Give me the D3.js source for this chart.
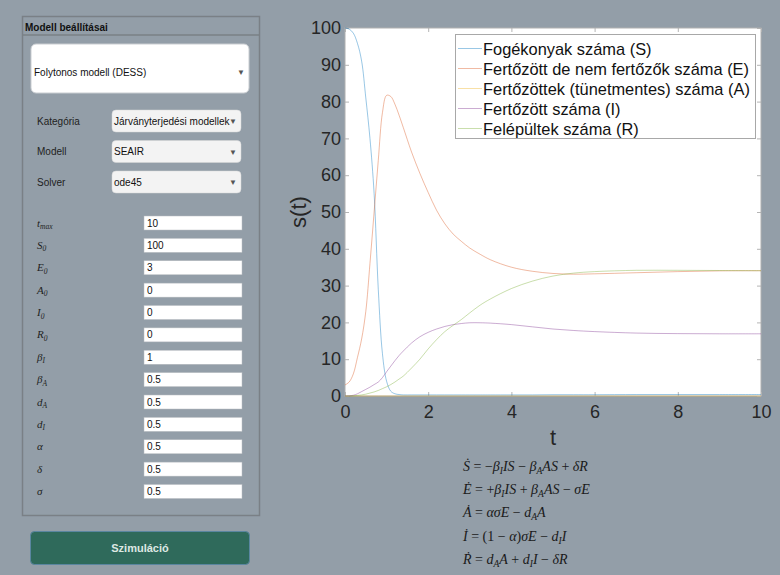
<!DOCTYPE html>
<html>
<head>
<meta charset="utf-8">
<script src="https://cdn.jsdelivr.net/npm/d3@7/dist/d3.min.js"></script>
<style>
  body { margin: 0; background: #939ea8; }
  svg { display: block; font-family: "Liberation Sans", Arial, sans-serif; }
</style>
</head>
<body>
<svg id="page" width="780" height="575"></svg>
<script>
// time grid (t) shared by all series
const tGrid = [0, 0.1, 0.2, 0.3, 0.4, 0.5, 0.6, 0.7, 0.8, 0.9, 1.0, 1.1, 1.2, 1.3, 1.4, 1.6, 1.8, 2.0, 2.2, 2.4, 2.6, 2.8, 3.0, 3.25, 3.5, 4.0, 4.5, 5.0, 5.5, 6.0, 7.0, 8.0, 9.0, 10.0];

// values
const sValues = [100, 99.7, 98.6, 95.8, 91, 81, 70, 55, 29, 11.5, 4, 1.3, 0.6, 0.4, 0.3, 0.3, 0.3, 0.3, 0.3, 0.3, 0.3, 0.3, 0.3, 0.3, 0.3, 0.3, 0.3, 0.35, 0.35, 0.35, 0.4, 0.4, 0.4, 0.4];
const eValues = [3, 3.8, 6, 10.5, 15.5, 23, 36, 50, 64, 77, 81.7, 81.4, 79.3, 76.3, 73, 66.3, 60.5, 55.3, 50.5, 46.8, 44, 42, 40.2, 38.5, 37, 35, 33.9, 33.3, 33.1, 33.2, 33.5, 33.8, 34, 34.05];
const aValues = [0, 0, 0, 0, 0, 0, 0, 0, 0, 0, 0, 0, 0, 0, 0, 0, 0, 0, 0, 0, 0, 0, 0, 0, 0, 0, 0, 0, 0, 0, 0, 0, 0, 0];
const iValues = [0, 0.05, 0.2, 0.6, 1.2, 1.8, 2.4, 3.1, 3.8, 5.0, 6.6, 8.1, 9.6, 11, 12.2, 14.4, 16.1, 17.3, 18.2, 18.9, 19.4, 19.7, 19.9, 19.9, 19.8, 19.4, 18.8, 18.2, 17.8, 17.5, 17.1, 16.95, 16.9, 16.9];
const rValues = [0, 0, 0.05, 0.15, 0.3, 0.5, 0.8, 1.1, 1.5, 2.0, 2.5, 3.1, 3.8, 4.6, 5.4, 7.6, 10, 12.8, 15.3, 17.5, 19.2, 20.8, 22.6, 24.7, 26.4, 29.2, 31.2, 32.6, 33.4, 33.8, 34.15, 34.15, 34.1, 34.05];

const seriesNames = [
  "Fogékonyak száma (S)",
  "Fertőzött de nem fertőzők száma (E)",
  "Fertőzöttek (tünetmentes) száma (A)",
  "Fertőzött száma (I)",
  "Felépültek száma (R)"
];
const seriesColors = ["#0072bd", "#d95319", "#edb120", "#7e2f8e", "#77ac30"];

const xTicks = [0, 2, 4, 6, 8, 10];
const yTicks = [0, 10, 20, 30, 40, 50, 60, 70, 80, 90, 100];

// side panel contents
const modeValue = "Folytonos modell (DESS)";
const selectLabels = ["Kategória", "Modell", "Solver"];
const selectValues = ["Járványterjedési modellek", "SEAIR", "ode45"];
const paramSymbols = [["t", "max"], ["S", "0"], ["E", "0"], ["A", "0"], ["I", "0"], ["R", "0"], ["β", "I"], ["β", "A"], ["d", "A"], ["d", "I"], ["α", ""], ["δ", ""], ["σ", ""]];
const paramValues = ["10", "100", "3", "0", "0", "0", "1", "0.5", "0.5", "0.5", "0.5", "0.5", "0.5"];
const equations = [
  "Ṡ = −β_IIS − β_AAS + δR",
  "Ė = +β_IIS + β_AAS − σE",
  "Ȧ = ασE − d_AA",
  "İ = (1 − α)σE − d_II",
  "Ṙ = d_AA + d_II − δR"
];

const svg = d3.select("#page");

// ---------- left panel ----------
const panel = svg.append("g");

panel.append("rect")
  .attr("x", 22.5).attr("y", 16.5).attr("width", 237).attr("height", 499)
  .attr("fill", "none").attr("stroke", "#7a8086").attr("stroke-width", 1.5);
panel.append("line")
  .attr("x1", 22.5).attr("x2", 259.5).attr("y1", 35).attr("y2", 35)
  .attr("stroke", "#7a8086").attr("stroke-width", 1.5);
panel.append("text")
  .attr("x", 25).attr("y", 30.5)
  .attr("font-size", 10).attr("font-weight", "bold").attr("fill", "#111")
  .text("Modell beállításai");

// big dropdown
panel.append("rect")
  .attr("x", 31).attr("y", 44).attr("width", 218).attr("height", 49).attr("rx", 5)
  .attr("fill", "#fff").attr("stroke", "#c9cdd1");
panel.append("text")
  .attr("x", 34).attr("y", 75.5).attr("font-size", 10).attr("fill", "#111")
  .text(modeValue);
panel.append("text")
  .attr("x", 241).attr("y", 75).attr("font-size", 8).attr("fill", "#555")
  .attr("text-anchor", "middle").text("▼");

// small selects
const selY = d3.scaleLinear().domain([0, 2]).range([121, 182]);
const sel = panel.selectAll(".sel")
  .data(selectLabels)
  .enter().append("g")
  .attr("class", "sel")
  .attr("transform", (d, i) => `translate(0,${selY(i)})`);
sel.append("text")
  .attr("x", 37).attr("y", 3.5).attr("font-size", 10).attr("fill", "#222")
  .text(d => d);
sel.append("rect")
  .attr("x", 112).attr("y", -11).attr("width", 129).attr("height", 22).attr("rx", 4)
  .attr("fill", "#f3f3f3").attr("stroke", "#d6d6d6").attr("stroke-width", 0.5);
sel.append("text")
  .attr("x", 114).attr("y", 3.5).attr("font-size", 10).attr("fill", "#111")
  .text((d, i) => selectValues[i]);
sel.append("text")
  .attr("x", 233).attr("y", 3).attr("font-size", 8).attr("fill", "#555")
  .attr("text-anchor", "middle").text("▼");

// parameter inputs
const rowY = d3.scaleLinear().domain([0, paramSymbols.length - 1]).range([223, 491.5]);
const rows = panel.selectAll(".param")
  .data(paramSymbols)
  .enter().append("g")
  .attr("class", "param")
  .attr("transform", (d, i) => `translate(0,${rowY(i)})`);
const lab = rows.append("text")
  .attr("x", 37).attr("y", 3.5)
  .attr("font-family", "'Liberation Serif', 'Times New Roman', serif")
  .attr("font-style", "italic")
  .attr("font-size", 11).attr("fill", "#1e1e1e");
lab.append("tspan").text(d => d[0]);
lab.append("tspan").attr("dy", 2.5).attr("font-size", 7.5).text(d => d[1]);
rows.append("rect")
  .attr("x", 144).attr("y", -7).attr("width", 98).attr("height", 14)
  .attr("fill", "#fff").attr("stroke", "#b8bcc0").attr("stroke-width", 0.5);
rows.append("text")
  .attr("x", 147).attr("y", 3.5).attr("font-size", 10).attr("fill", "#111")
  .text((d, i) => paramValues[i]);

// button
panel.append("rect")
  .attr("x", 30.5).attr("y", 531.5).attr("width", 219).attr("height", 33).attr("rx", 4)
  .attr("fill", "#2f6a5b").attr("stroke", "#5a86a0").attr("stroke-width", 1);
panel.append("text")
  .attr("x", 140).attr("y", 552).attr("text-anchor", "middle")
  .attr("font-size", 11).attr("font-weight", "bold").attr("fill", "#dde8e3")
  .text("Szimuláció");

// ---------- chart ----------
const plot = { left: 345, right: 761, top: 28, bottom: 396 };

const x = d3.scaleLinear().domain([0, 10]).range([plot.left, plot.right]);
const y = d3.scaleLinear().domain([0, 100]).range([plot.bottom, plot.top]);

svg.append("rect")
  .attr("x", plot.left).attr("y", plot.top)
  .attr("width", plot.right - plot.left).attr("height", plot.bottom - plot.top)
  .attr("fill", "#fff");

const tickStyle = g => {
  g.select(".domain").remove();
  g.selectAll(".tick line").attr("stroke", "#b5b5b5");
  g.selectAll(".tick text")
    .attr("fill", "#262626")
    .attr("font-size", 18)
    .attr("font-family", "'Liberation Sans', Arial, sans-serif");
};

svg.append("g")
  .attr("transform", `translate(${plot.left},0)`)
  .call(d3.axisLeft(y).tickValues(yTicks).tickSize(-4).tickPadding(4))
  .call(tickStyle);
svg.append("g")
  .attr("transform", `translate(${plot.right},0)`)
  .call(d3.axisRight(y).tickValues(yTicks).tickSize(-4).tickFormat(""))
  .call(tickStyle);
svg.append("g")
  .attr("transform", `translate(0,${plot.bottom})`)
  .call(d3.axisBottom(x).tickValues(xTicks).tickSize(-4).tickPadding(9))
  .call(tickStyle);
svg.append("g")
  .attr("transform", `translate(0,${plot.top})`)
  .call(d3.axisTop(x).tickValues(xTicks).tickSize(-4).tickFormat(""))
  .call(tickStyle);

svg.append("rect")
  .attr("x", plot.left).attr("y", plot.top)
  .attr("width", plot.right - plot.left).attr("height", plot.bottom - plot.top)
  .attr("fill", "none").attr("stroke", "#b0b0b0").attr("stroke-width", 1);

const series = [sValues, eValues, aValues, iValues, rValues];

const line = d3.line()
  .x((d, i) => x(tGrid[i]))
  .y(d => y(d))
  .curve(d3.curveCatmullRom.alpha(0.5));

svg.append("g")
  .selectAll("path")
  .data(series)
  .enter().append("path")
  .attr("fill", "none")
  .attr("stroke", (d, i) => seriesColors[i])
  .attr("stroke-opacity", 0.4)
  .attr("stroke-width", 1)
  .attr("d", line);

// axis labels
svg.append("text")
  .attr("x", 553).attr("y", 445)
  .attr("text-anchor", "middle").attr("font-size", 22).attr("fill", "#262626")
  .text("t");
svg.append("text")
  .attr("transform", "translate(306,212) rotate(-90)")
  .attr("text-anchor", "middle").attr("font-size", 22).attr("fill", "#262626")
  .text("s(t)");

// legend
const legend = svg.append("g").attr("transform", "translate(455,34)");
legend.append("rect")
  .attr("x", 0.5).attr("y", 0.5).attr("width", 300).attr("height", 104)
  .attr("fill", "#fff").attr("stroke", "#a8a8a8");
const item = legend.selectAll(".item")
  .data(seriesNames)
  .enter().append("g")
  .attr("class", "item")
  .attr("transform", (d, i) => `translate(0,${14.5 + i * 20})`);
item.append("line")
  .attr("x1", 3).attr("x2", 27)
  .attr("stroke", (d, i) => seriesColors[i])
  .attr("stroke-opacity", 0.4).attr("stroke-width", 1);
item.append("text")
  .attr("x", 28).attr("y", 6)
  .attr("font-size", 16.4).attr("fill", "#111")
  .text(d => d);

// equations
const opChars = "=−+()1 ";
const eq = svg.append("g")
  .attr("font-family", "'Liberation Serif', 'Times New Roman', serif")
  .attr("font-size", 14).attr("fill", "#1a1a1a");
equations.forEach((src, k) => {
  const t = eq.append("text").attr("x", 463).attr("y", 471 + k * 23.2);
  let sub = false;
  let i = 0;
  while (i < src.length) {
    if (src[i] === "_") {
      t.append("tspan").attr("dy", 3).attr("font-size", 9.5)
        .attr("font-style", "italic").text(src[i + 1]);
      sub = true;
      i += 2;
      continue;
    }
    const italic = !opChars.includes(src[i]);
    let j = i;
    while (j < src.length && src[j] !== "_" && !opChars.includes(src[j]) === italic) j++;
    const ts = t.append("tspan")
      .attr("font-style", italic ? "italic" : "normal")
      .text(src.slice(i, j));
    if (sub) { ts.attr("dy", -3); sub = false; }
    i = j;
  }
});
</script>
</body>
</html>
